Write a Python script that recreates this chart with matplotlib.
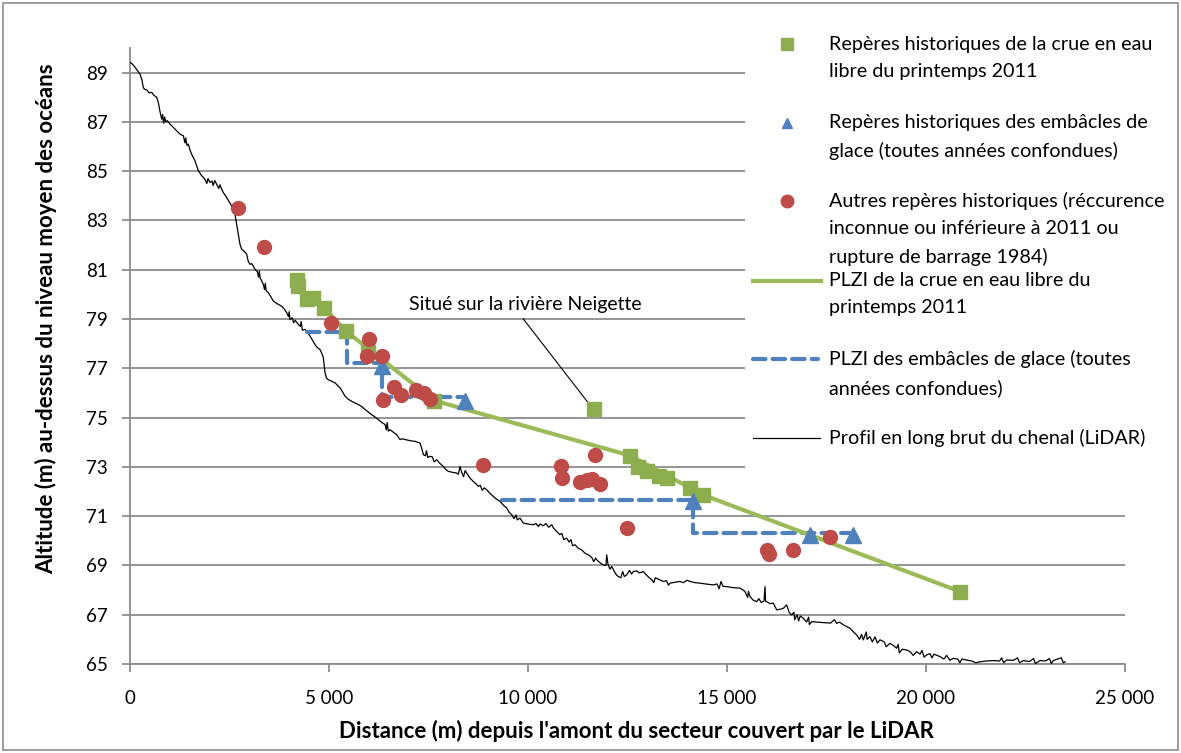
import matplotlib
matplotlib.use("Agg")
import matplotlib.pyplot as plt
from matplotlib.lines import Line2D
from matplotlib.patches import Rectangle
import numpy as np

plt.rcParams['font.family'] = ['Lato', 'DejaVu Sans']

# ---- data -------------------------------------------------------------
crue_x = [4196, 4220, 4440, 4606, 4874, 5427, 5988, 7646, 11659, 12563,
          12772, 12982, 13300, 13485, 14070, 14389, 20855]
crue_y = [80.57, 80.35, 79.80, 79.87, 79.46, 78.51, 77.65, 75.69, 75.33, 73.46,
          73.00, 72.82, 72.61, 72.55, 72.14, 71.87, 67.94]

embacle_x = [6322, 8417, 14155, 17086, 18174]
embacle_y = [77.09, 75.66, 71.60, 70.24, 70.24]

autres_x = [2721, 3375, 5050, 5997, 5962, 6322, 6633, 6365, 6799, 7186, 7387,
            7538, 8876, 10822, 10864, 11691, 11307, 11474, 11600, 11809, 12480,
            15996, 16062, 16666, 17588]
autres_y = [83.50, 81.94, 78.85, 78.17, 77.49, 77.49, 76.23, 75.73, 75.93, 76.14,
            75.98, 75.76, 73.08, 73.02, 72.53, 73.47, 72.38, 72.48, 72.51, 72.32,
            70.51, 69.63, 69.47, 69.61, 70.17]

plzi_crue_x = [4874, 5427, 7646, 12563, 14389, 20855]
plzi_crue_y = [79.46, 78.51, 75.69, 73.46, 71.87, 67.94]

plzi_glace_x = [4440, 5443, 5443, 6322, 6322, 8417, np.nan,
                9337, 14152, 14152, 18174]
plzi_glace_y = [78.47, 78.47, 77.20, 77.20, 75.83, 75.83, np.nan,
                71.67, 71.67, 70.30, 70.30]

profil_x = [0, 60, 126, 200, 251, 300, 335, 360, 420, 480, 545, 600, 670, 712, 750,
            796, 820, 845, 870, 900, 940, 1005, 1090, 1172, 1260, 1340, 1380, 1400,
            1430, 1466, 1510, 1549, 1633, 1717, 1800, 1884, 1930, 1960, 2010, 2060,
            2090, 2130, 2178, 2230, 2260, 2303, 2350, 2429, 2555, 2638, 2680, 2720,
            2764, 2806, 2870, 2932, 2970, 3015, 3060, 3141, 3200, 3230, 3250, 3267,
            3350, 3380, 3400, 3420, 3475, 3540, 3601, 3700, 3811, 3870, 3937, 3980,
            4000, 4020, 4080, 4110, 4150, 4229, 4280, 4300, 4330, 4398, 4460, 4523,
            4580, 4649, 4700, 4774, 4820, 4858, 4880, 4900, 4940, 4983, 5060, 5151,
            5220, 5277, 5340, 5403, 5480, 5570, 5650, 5737, 5820, 5905, 5990, 6072,
            6160, 6240, 6330, 6407, 6440, 6460, 6490, 6533, 6620, 6700, 6784, 6840,
            6910, 7000, 7080, 7161, 7220, 7287, 7330, 7370, 7420, 7450, 7480, 7538,
            7600, 7640, 7705, 7780, 7873, 7930, 7998, 8100, 8208, 8250, 8291, 8330,
            8380, 8420, 8459, 8540, 8626, 8700, 8752, 8800, 8850, 8900, 8961, 9050,
            9129, 9200, 9296, 9380, 9464, 9530, 9590, 9650, 9700, 9730, 9799, 9882,
            10000, 10133, 10200, 10260, 10300, 10384, 10450, 10520, 10595, 10650,
            10721, 10800, 10850, 10900, 10972, 11030, 11080, 11120, 11181, 11260,
            11349, 11430, 11516, 11600, 11650, 11700, 11725, 11800, 11893, 11960,
            11977, 12010, 12060, 12103, 12170, 12230, 12270, 12330, 12380, 12420,
            12480, 12550, 12600, 12646, 12720, 12800, 12898, 12980, 13065, 13120,
            13160, 13200, 13317, 13400, 13480, 13530, 13568, 13700, 13819, 13900,
            14000, 14070, 14200, 14322, 14500, 14657, 14750, 14800, 14850, 14900,
            14992, 15150, 15327, 15450, 15520, 15540, 15578, 15650, 15746, 15800,
            15860, 15930, 15955, 15970, 15997, 16080, 16164, 16248, 16330, 16415,
            16499, 16560, 16625, 16680, 16700, 16760, 16800, 16840, 16918, 17000,
            17050, 17070, 17128, 17250, 17420, 17600, 17700, 17755, 17830, 17923,
            18090, 18180, 18258, 18330, 18380, 18425, 18500, 18520, 18593, 18650,
            18720, 18780, 18844, 18950, 19000, 19096, 19180, 19263, 19300, 19330,
            19400, 19515, 19600, 19680, 19766, 19850, 19900, 19950, 20017, 20100,
            20150, 20200, 20352, 20450, 20520, 20600, 20687, 20800, 20850, 20900,
            21022, 21150, 21250, 21357, 21500, 21692, 21850, 21900, 21950, 22027,
            22200, 22300, 22350, 22446, 22600, 22700, 22750, 22864, 23000, 23100,
            23150, 23199, 23300, 23400, 23450, 23493]
profil_y = [89.42, 89.35, 89.22, 89.05, 88.94, 88.70, 88.40, 88.33, 88.30, 88.18,
            88.20, 88.08, 88.00, 87.79, 87.45, 87.11, 87.30, 86.95, 87.20, 87.00,
            87.05, 86.91, 86.78, 86.64, 86.50, 86.44, 86.15, 86.35, 86.05, 86.10,
            85.85, 85.69, 85.42, 85.02, 84.82, 84.67, 84.50, 84.70, 84.54, 84.60,
            84.42, 84.62, 84.47, 84.30, 84.45, 84.27, 84.12, 83.93, 83.59, 83.25,
            82.85, 82.45, 82.03, 81.83, 81.75, 81.63, 81.35, 81.22, 81.25, 81.02,
            80.92, 80.70, 80.95, 80.68, 80.41, 80.20, 80.45, 80.15, 80.07, 79.90,
            79.73, 79.62, 79.52, 79.42, 79.26, 79.10, 79.30, 78.98, 79.05, 78.85,
            78.95, 78.78, 78.70, 78.90, 78.55, 78.58, 78.45, 78.31, 78.15, 77.97,
            77.85, 77.76, 77.60, 77.43, 77.10, 76.82, 76.60, 76.54, 76.48, 76.41,
            76.30, 76.21, 76.05, 75.87, 75.75, 75.66, 75.60, 75.53, 75.45, 75.33,
            75.22, 75.12, 75.02, 74.92, 74.80, 74.72, 74.50, 74.80, 74.45, 74.51,
            74.40, 74.31, 74.11, 74.14, 74.11, 74.08, 74.05, 74.04, 74.00, 73.97,
            73.75, 73.50, 73.45, 73.65, 73.38, 73.43, 73.40, 73.20, 73.29, 73.15,
            73.02, 72.90, 72.82, 72.78, 72.75, 72.70, 73.02, 72.80, 72.60, 72.85,
            72.75, 72.55, 72.41, 72.30, 72.21, 72.25, 72.05, 72.15, 72.07, 71.92,
            71.80, 71.70, 71.60, 71.45, 71.33, 71.15, 71.06, 70.90, 71.05, 70.85,
            70.92, 70.72, 70.68, 70.65, 70.70, 70.58, 70.68, 70.61, 70.70, 70.55,
            70.65, 70.50, 70.38, 70.25, 70.30, 70.05, 70.11, 69.95, 70.05, 69.80,
            69.84, 69.70, 69.63, 69.50, 69.43, 69.33, 69.15, 69.30, 69.23, 69.12,
            69.02, 69.00, 69.43, 69.05, 68.85, 68.96, 68.75, 68.60, 68.55, 68.50,
            68.75, 68.55, 68.62, 68.80, 68.65, 68.75, 68.78, 68.70, 68.75, 68.60,
            68.48, 68.40, 68.30, 68.50, 68.41, 68.35, 68.38, 68.20, 68.28, 68.32,
            68.35, 68.30, 68.40, 68.35, 68.30, 68.28, 68.24, 68.21, 68.25, 68.05,
            68.35, 68.15, 68.14, 68.10, 68.08, 67.95, 67.70, 67.95, 67.74, 67.60,
            67.53, 67.65, 67.50, 67.55, 68.14, 67.55, 67.53, 67.45, 67.47, 67.20,
            67.22, 67.26, 67.40, 67.10, 66.99, 67.10, 66.80, 67.00, 66.75, 66.95,
            66.86, 66.70, 66.90, 66.60, 66.72, 66.70, 66.68, 66.66, 66.80, 66.65,
            66.70, 66.59, 66.45, 66.30, 66.18, 66.00, 66.20, 65.98, 66.30, 66.00,
            66.11, 65.90, 66.10, 65.85, 65.98, 65.90, 65.70, 65.84, 65.75, 65.64,
            65.80, 65.45, 65.60, 65.57, 65.50, 65.35, 65.50, 65.40, 65.55, 65.28,
            65.37, 65.42, 65.25, 65.40, 65.30, 65.20, 65.35, 65.15, 65.23, 65.20,
            65.05, 65.20, 65.16, 65.12, 65.05, 65.09, 65.12, 65.14, 65.12, 65.25,
            65.05, 65.16, 65.15, 65.25, 65.05, 65.14, 65.10, 65.22, 65.02, 65.14,
            65.12, 65.22, 65.02, 65.14, 65.20, 65.25, 65.05, 65.09]

x_ticks = [0, 5000, 10000, 15000, 20000, 25000]
x_tick_labels = ['0', '5 000', '10 000', '15 000', '20 000', '25 000']
y_ticks = list(range(65, 90, 2))

legend_labels = [
    "Repères historiques de la crue en eau\nlibre du printemps 2011",
    "Repères historiques des embâcles de\nglace (toutes années confondues)",
    "Autres repères historiques (réccurence\ninconnue ou inférieure à 2011 ou\nrupture de barrage 1984)",
    "PLZI de la crue en eau libre du\nprintemps 2011",
    "PLZI des embâcles de glace (toutes\nannées confondues)",
    "Profil en long brut du chenal (LiDAR)",
]

# ---- styling ----------------------------------------------------------
GREEN = '#9BBB59'
GREEN_MK = '#8CAE4E'
BLUE = '#4F81BD'
RED = '#BE4B48'
GRID = '#8C8C8C'

W, H = 1181, 753
fig = plt.figure(figsize=(W / 100, H / 100), dpi=100)


def fx(px):
    return px / W


def fy(py):
    return 1 - py / H


ax = fig.add_axes([fx(130), fy(664), fx(1125) - fx(130), fy(48) - fy(664)])
ax.set_xlim(0, 25000)
ax.set_ylim(65, 90)

ax.set_yticks(y_ticks)
ax.set_yticklabels([str(v) for v in y_ticks])
ax.set_xticks(x_ticks)
ax.set_xticklabels(x_tick_labels)
ax.grid(axis='y', color=GRID, linewidth=1.3)
ax.set_axisbelow(True)
for s in ['top', 'right']:
    ax.spines[s].set_visible(False)
for s in ['left', 'bottom']:
    ax.spines[s].set_color(GRID)
    ax.spines[s].set_linewidth(1.3)
ax.tick_params(axis='both', colors=GRID, length=6, width=1.3, labelsize=13.5,
               labelcolor='black')
ax.tick_params(axis='y', pad=10)
ax.tick_params(axis='x', pad=13)

ax.set_xlabel("Distance (m) depuis l'amont du secteur couvert par le LiDAR",
              fontsize=16, fontweight='bold')
ax.set_ylabel("Altitude (m) au-dessus du niveau moyen des océans",
              fontsize=16, fontweight='bold')
ax.xaxis.set_label_coords((636 - 130) / 995, -(731 - 664) / 616)
ax.yaxis.set_label_coords(-(130 - 46) / 995, (664 - 319) / 616)
ax.xaxis.label.set_va('center')
ax.yaxis.label.set_va('center')

# river profile
ax.plot(profil_x, profil_y, color='black', linewidth=0.9, zorder=3)
# ice-jam flood line
ax.plot(plzi_glace_x, plzi_glace_y, color=BLUE, linewidth=3, zorder=4,
        dashes=(3.0, 1.7), dash_capstyle='round', solid_capstyle='round')
# open-water flood line
ax.plot(plzi_crue_x, plzi_crue_y, color=GREEN, linewidth=3, zorder=4)
# marks
ax.plot(crue_x, crue_y, linestyle='none', marker='s', markersize=9.5,
        color=GREEN_MK, zorder=5)
ax.plot(embacle_x, embacle_y, linestyle='none', marker='^', markersize=11,
        color=BLUE, zorder=5)
ax.plot(autres_x, autres_y, linestyle='none', marker='o', markersize=10,
        color=RED, zorder=6)

# callout for the Neigette mark
ax.annotate("", xy=(11508, 75.61), xytext=(9875, 79.02),
            arrowprops=dict(arrowstyle='-', color='black', lw=0.8,
                            shrinkA=0, shrinkB=0))
ax.text(9925, 79.59, "Situé sur la rivière Neigette", fontsize=14,
        ha='center', va='center')

# legend panel
fig.patches.append(Rectangle((fx(745), fy(490)), fx(1176) - fx(745), fy(22) - fy(490),
                             transform=fig.transFigure, facecolor='white',
                             edgecolor='none', zorder=2))
text_x = 829
first_line_y = [45, 123, 201, 281, 359, 438]
for lab, ty in zip(legend_labels, first_line_y):
    fig.text(fx(text_x), fy(ty - 9), lab, fontsize=14.2, ha='left', va='top',
             linespacing=1.72, zorder=3)

mk_x = 787
fig.add_artist(Line2D([fx(mk_x)], [fy(44)], marker='s', markersize=8,
                      color=GREEN_MK, linestyle='none', zorder=3))
fig.add_artist(Line2D([fx(mk_x)], [fy(123)], marker='^', markersize=7.5,
                      color=BLUE, linestyle='none', zorder=3))
fig.add_artist(Line2D([fx(mk_x)], [fy(201)], marker='o', markersize=9,
                      color=RED, linestyle='none', zorder=3))
fig.add_artist(Line2D([fx(753), fx(821)], [fy(281)] * 2, color=GREEN,
                      linewidth=3, zorder=3))
fig.add_artist(Line2D([fx(753), fx(818)], [fy(359)] * 2, color=BLUE,
                      linewidth=3, dashes=(3.0, 1.7), dash_capstyle='round', zorder=3))
fig.add_artist(Line2D([fx(753), fx(820)], [fy(438)] * 2, color='black',
                      linewidth=0.9, zorder=3))

# chart border
fig.patches.append(Rectangle((fx(3), fy(750)), fx(1178) - fx(3), fy(3) - fy(750),
                             transform=fig.transFigure, facecolor='none',
                             edgecolor=GRID, linewidth=1.2, zorder=10))

fig.savefig('out.png', dpi=100)
